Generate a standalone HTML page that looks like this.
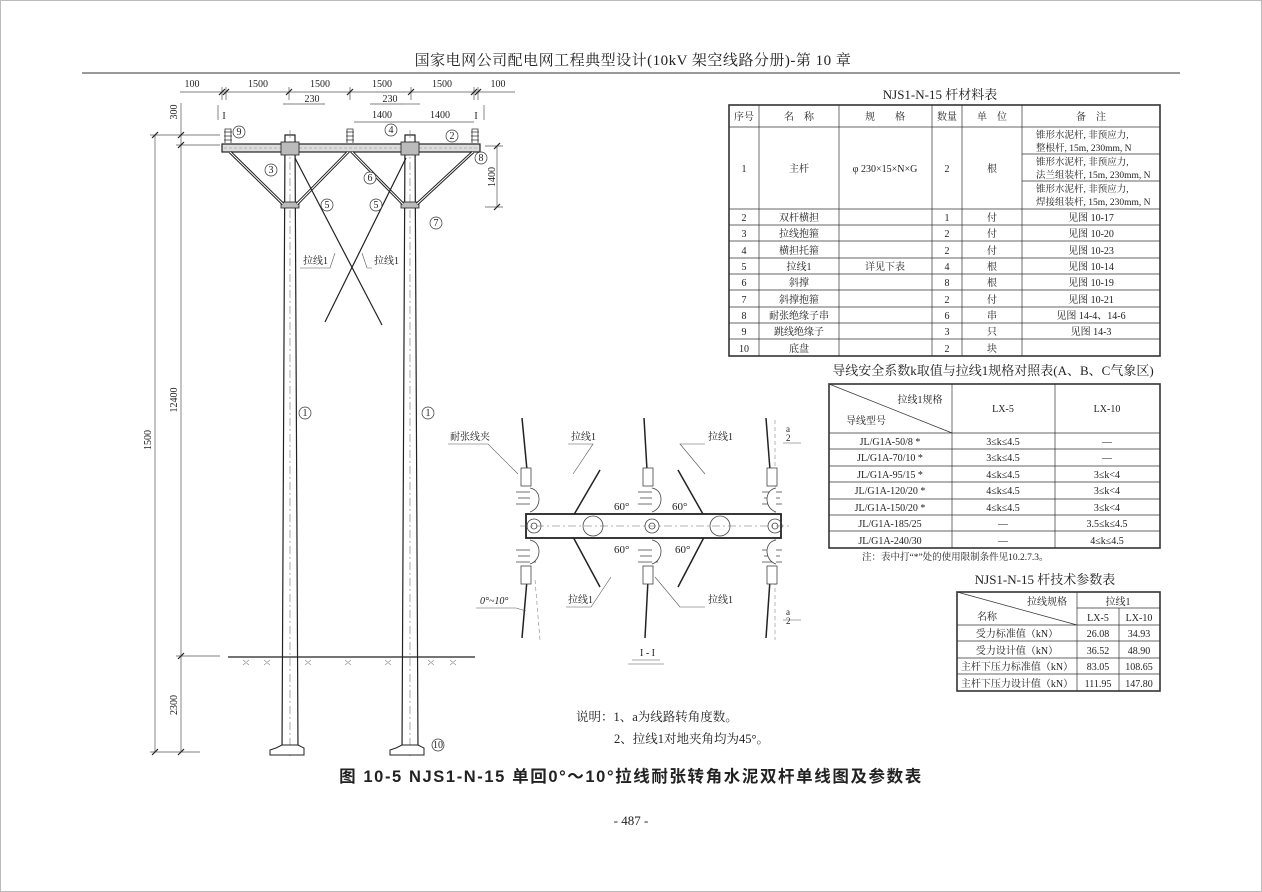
<!DOCTYPE html>
<html><head><meta charset="utf-8"><style>
body{margin:0;background:#fff}
svg{display:block}
text{font-family:"Liberation Serif","Noto Serif CJK SC","Noto Sans CJK SC",serif;fill:#222}
.s{font-size:10px}
.m{font-size:11px}
</style></head><body>
<svg width="1262" height="892" viewBox="0 0 1262 892" xmlns="http://www.w3.org/2000/svg">
<rect x="0" y="0" width="1262" height="892" fill="#fff"/>
<rect x="0.5" y="0.5" width="1261" height="891" fill="none" stroke="#bbb"/>
<text x="633" y="65" font-size="15" text-anchor="middle" letter-spacing="0.5">国家电网公司配电网工程典型设计(10kV 架空线路分册)-第 10 章</text>
<line x1="82" y1="73" x2="1180" y2="73" stroke="#333" stroke-width="1"/>

<!-- top dims -->
<g stroke="#555" stroke-width="0.7" fill="none">
<line x1="180" y1="92" x2="515" y2="92"/>
<line x1="222" y1="87" x2="222" y2="100"/><line x1="226" y1="87" x2="226" y2="100"/>
<line x1="289" y1="87" x2="289" y2="100"/><line x1="350" y1="87" x2="350" y2="100"/>
<line x1="411" y1="87" x2="411" y2="100"/><line x1="474" y1="87" x2="474" y2="100"/><line x1="478" y1="87" x2="478" y2="100"/>
<line x1="283" y1="104" x2="325" y2="104"/><line x1="405" y1="104" x2="420" y2="104"/><line x1="370" y1="104" x2="405" y2="104"/>
<line x1="354" y1="122" x2="474" y2="122"/>
<line x1="218" y1="105" x2="218" y2="120"/><line x1="484" y1="105" x2="484" y2="120"/>
<line x1="155" y1="135" x2="155" y2="752"/><line x1="181" y1="103" x2="181" y2="752"/>
<line x1="150" y1="135" x2="220" y2="135"/><line x1="176" y1="145" x2="220" y2="145"/>
<line x1="176" y1="656" x2="220" y2="656"/><line x1="150" y1="752" x2="200" y2="752"/>
<line x1="497" y1="146" x2="497" y2="207"/><line x1="485" y1="146" x2="503" y2="146"/><line x1="485" y1="207" x2="503" y2="207"/>
</g>
<g stroke="#222" stroke-width="1.2">
<line x1="219" y1="95" x2="225" y2="89"/><line x1="223" y1="95" x2="229" y2="89"/><line x1="286" y1="95" x2="292" y2="89"/><line x1="347" y1="95" x2="353" y2="89"/><line x1="408" y1="95" x2="414" y2="89"/><line x1="471" y1="95" x2="477" y2="89"/><line x1="475" y1="95" x2="481" y2="89"/>
<line x1="152" y1="138" x2="158" y2="132"/><line x1="178" y1="138" x2="184" y2="132"/><line x1="178" y1="148" x2="184" y2="142"/><line x1="178" y1="659" x2="184" y2="653"/><line x1="152" y1="755" x2="158" y2="749"/><line x1="178" y1="755" x2="184" y2="749"/>
<line x1="494" y1="149" x2="500" y2="143"/><line x1="494" y1="210" x2="500" y2="204"/>
</g>
<g class="s" text-anchor="middle">
<text x="192" y="87">100</text><text x="258" y="87">1500</text><text x="320" y="87">1500</text><text x="382" y="87">1500</text><text x="442" y="87">1500</text><text x="498" y="87">100</text>
<text x="312" y="102">230</text><text x="390" y="102">230</text>
<text x="382" y="118">1400</text><text x="440" y="118">1400</text>
<text x="224" y="119">I</text><text x="476" y="119">I</text>
<text transform="translate(177,112) rotate(-90)">300</text>
<text transform="translate(177,400) rotate(-90)">12400</text>
<text transform="translate(151,440) rotate(-90)">1500</text>
<text transform="translate(177,705) rotate(-90)">2300</text>
<text transform="translate(495,177) rotate(-90)">1400</text>
</g>

<!-- poles -->
<g stroke="#222" stroke-width="1.2" fill="#fff">
<polygon points="285,135 295,135 298,752 282,752"/>
<polygon points="405,135 415,135 418,752 402,752"/>
</g>
<g stroke="#777" stroke-width="0.6" stroke-dasharray="8,3,2,3">
<line x1="290" y1="130" x2="290" y2="756"/><line x1="410" y1="130" x2="410" y2="756"/>
</g>
<g stroke="#222" stroke-width="1" fill="#fff">
<polygon points="276,748 282,745 298,745 304,748 304,755 270,755 270,750"/>
<polygon points="396,748 402,745 418,745 424,748 424,755 390,755 390,750"/>
</g>
<line x1="228" y1="657" x2="475" y2="657" stroke="#222" stroke-width="1.3"/>
<g stroke="#888" stroke-width="0.6">
<path d="M243,660l6,5M249,660l-6,5M264,660l6,5M270,660l-6,5M305,660l6,5M311,660l-6,5M345,660l6,5M351,660l-6,5M385,660l6,5M391,660l-6,5M428,660l6,5M434,660l-6,5M450,660l6,5M456,660l-6,5"/>
</g>
<rect x="222" y="144" width="258" height="8" fill="#ddd" stroke="#222" stroke-width="1.2"/>
<line x1="224" y1="148" x2="478" y2="148" stroke="#888" stroke-dasharray="3,2" stroke-width="0.6"/>
<g fill="#bbb" stroke="#222" stroke-width="0.8">
<rect x="281" y="142" width="18" height="13"/><rect x="401" y="142" width="18" height="13"/>
<rect x="281" y="202" width="18" height="6"/><rect x="401" y="202" width="18" height="6"/>
</g>
<g stroke="#222" stroke-width="3" fill="none">
<line x1="230" y1="152" x2="283" y2="204"/><line x1="348" y1="152" x2="297" y2="204"/>
<line x1="352" y1="152" x2="403" y2="204"/><line x1="473" y1="152" x2="417" y2="204"/>
</g>
<g stroke="#fff" stroke-width="1" fill="none">
<line x1="230" y1="152" x2="283" y2="204"/><line x1="348" y1="152" x2="297" y2="204"/>
<line x1="352" y1="152" x2="403" y2="204"/><line x1="473" y1="152" x2="417" y2="204"/>
</g>
<g stroke="#222" stroke-width="1.2">
<line x1="295" y1="158" x2="382" y2="325"/><line x1="406" y1="158" x2="325" y2="322"/>
</g>
<g stroke="#333" stroke-width="0.8" fill="#fff">
<path d="M225,143v-14h6v14M224,140h8M224,136h8M224,132h8"/>
<path d="M347,143v-14h6v14M346,140h8M346,136h8M346,132h8"/>
<path d="M472,143v-14h6v14M471,140h8M471,136h8M471,132h8"/>
</g>
<g stroke="#333" stroke-width="0.7" fill="#fff" class="s">
<circle cx="239" cy="132" r="6"/><circle cx="391" cy="130" r="6"/><circle cx="452" cy="136" r="6"/><circle cx="481" cy="158" r="6"/>
<circle cx="271" cy="170" r="6"/><circle cx="370" cy="178" r="6"/><circle cx="327" cy="205" r="6"/><circle cx="376" cy="205" r="6"/><circle cx="436" cy="223" r="6"/>
<circle cx="305" cy="413" r="6"/><circle cx="428" cy="413" r="6"/><circle cx="438" cy="745" r="6"/>
</g>
<g class="s" text-anchor="middle">
<text x="239" y="135">9</text><text x="391" y="133">4</text><text x="452" y="139">2</text><text x="481" y="161">8</text>
<text x="271" y="173">3</text><text x="370" y="181">6</text><text x="327" y="208">5</text><text x="376" y="208">5</text><text x="436" y="226">7</text>
<text x="305" y="416">1</text><text x="428" y="416">1</text><text x="438" y="748">10</text>
</g>
<g class="s"><text x="303" y="264">拉线1</text><text x="374" y="264">拉线1</text></g>
<g stroke="#555" stroke-width="0.6" fill="none"><path d="M300,268h30l5,-15M372,268h-5l-5,-15"/></g>

<!-- plan view I-I -->
<g stroke="#222" stroke-width="1.5">
<line x1="522" y1="418" x2="527" y2="470"/><line x1="527" y1="580" x2="522" y2="638"/>
<line x1="644" y1="418" x2="647" y2="470"/><line x1="648" y1="580" x2="645" y2="638"/>
<line x1="766" y1="418" x2="770" y2="470"/><line x1="770" y1="580" x2="766" y2="638"/>
<line x1="600" y1="470" x2="565" y2="530"/><line x1="678" y1="470" x2="712" y2="530"/>
<line x1="565" y1="522" x2="600" y2="587"/><line x1="712" y1="522" x2="678" y2="587"/>
</g>
<g stroke="#888" stroke-width="0.6" stroke-dasharray="4,3">
<line x1="775" y1="420" x2="775" y2="640"/><line x1="535" y1="580" x2="540" y2="640"/>
</g>
<g stroke="#444" stroke-width="0.8" fill="#fff">
<rect x="521" y="468" width="10" height="18"/><rect x="643" y="468" width="10" height="18"/><rect x="767" y="468" width="10" height="18"/>
<rect x="521" y="566" width="10" height="18"/><rect x="643" y="566" width="10" height="18"/><rect x="767" y="566" width="10" height="18"/>
<path d="M516,492h20M518,498h16M516,504h20M638,492h20M640,498h16M638,504h20M762,492h20M764,498h16M762,504h20"/>
<path d="M516,550h20M518,556h16M516,562h20M638,550h20M640,556h16M638,562h20M762,550h20M764,556h16M762,562h20"/>
<path d="M530,488c12,2 12,20 0,24M652,488c12,2 12,20 0,24M776,488c-12,2 -12,20 0,24"/>
<path d="M530,540c12,2 12,20 0,24M652,540c12,2 12,20 0,24M776,540c-12,2 -12,20 0,24"/>
</g>
<rect x="526" y="514" width="255" height="24" fill="#fff" stroke="#222" stroke-width="1.8"/>
<line x1="520" y1="526" x2="790" y2="526" stroke="#666" stroke-width="0.6" stroke-dasharray="8,3,2,3"/>
<g stroke="#444" stroke-width="0.8" fill="none">
<circle cx="534" cy="526" r="7"/><circle cx="534" cy="526" r="3"/>
<circle cx="652" cy="526" r="7"/><circle cx="652" cy="526" r="3"/>
<circle cx="775" cy="526" r="7"/><circle cx="775" cy="526" r="3"/>
<circle cx="593" cy="526" r="10"/><circle cx="720" cy="526" r="10"/>
</g>
<g font-size="11"><text x="614" y="510">60°</text><text x="672" y="510">60°</text><text x="614" y="553">60°</text><text x="675" y="553">60°</text></g>
<g class="s">
<text x="450" y="440">耐张线夹</text><text x="571" y="440">拉线1</text><text x="708" y="440">拉线1</text>
<text x="568" y="603">拉线1</text><text x="708" y="603">拉线1</text>
<text x="480" y="604" font-style="italic">0°~10°</text>
<text x="786" y="432" font-size="9">a</text><text x="786" y="441" font-size="9">2</text>
<text x="786" y="615" font-size="9">a</text><text x="786" y="624" font-size="9">2</text>
<text x="640" y="656">I - I</text>
</g>
<g stroke="#555" stroke-width="0.6" fill="none">
<path d="M448,444h40l30,30M568,444h25l-20,30M705,444h-25l25,30M566,607h25l20,-30M705,607h-25l-25,-30M476,608h40l10,3M783,443h18M783,620h18"/>
<line x1="632" y1="660" x2="660" y2="660"/><line x1="628" y1="664" x2="664" y2="664"/>
</g>

<text x="576" y="721" font-size="12.5">说明：1、a为线路转角度数。</text>
<text x="614" y="743" font-size="12.5">2、拉线1对地夹角均为45°。</text>
<text x="631" y="782" font-size="16.5" font-weight="bold" text-anchor="middle" letter-spacing="1.6" style="font-family:'Liberation Sans','Noto Sans CJK SC',sans-serif">图 10-5  NJS1-N-15 单回0°～10°拉线耐张转角水泥双杆单线图及参数表</text>
<text x="631" y="825" font-size="13" text-anchor="middle">- 487 -</text>

<!-- Table 1 -->
<text x="940" y="99" font-size="13" text-anchor="middle">NJS1-N-15 杆材料表</text>
<g stroke="#333" stroke-width="0.7" fill="none">
<rect x="729" y="105" width="431" height="251" stroke-width="1.6"/>
<path d="M729,127H1160M729,209H1160M729,225H1160M729,241H1160M729,258H1160M729,274H1160M729,290H1160M729,307H1160M729,323H1160M729,339H1160M1022,154H1160M1022,181H1160"/>
<path d="M759,105V356M839,105V356M932,105V356M962,105V356M1022,105V356"/>
</g>
<g class="s" text-anchor="middle">
<text x="744" y="120">序号</text><text x="799" y="120">名　称</text><text x="885" y="120">规　　格</text><text x="947" y="120">数量</text><text x="992" y="120">单　位</text><text x="1091" y="120">备　注</text>
<text x="744" y="172">1</text><text x="799" y="172">主杆</text><text x="885" y="172">φ 230×15×N×G</text><text x="947" y="172">2</text><text x="992" y="172">根</text>
</g>
<g font-size="9.5">
<text x="1036" y="138">锥形水泥杆, 非预应力,</text><text x="1036" y="151">整根杆, 15m, 230mm, N</text>
<text x="1036" y="165">锥形水泥杆, 非预应力,</text><text x="1036" y="178">法兰组装杆, 15m, 230mm, N</text>
<text x="1036" y="192">锥形水泥杆, 非预应力,</text><text x="1036" y="205">焊接组装杆, 15m, 230mm, N</text>
</g>
<g class="s" text-anchor="middle">
<text x="744" y="221">2</text><text x="799" y="221">双杆横担</text><text x="947" y="221">1</text><text x="992" y="221">付</text><text x="1091" y="221">见图 10-17</text>
<text x="744" y="237">3</text><text x="799" y="237">拉线抱箍</text><text x="947" y="237">2</text><text x="992" y="237">付</text><text x="1091" y="237">见图 10-20</text>
<text x="744" y="254">4</text><text x="799" y="254">横担托箍</text><text x="947" y="254">2</text><text x="992" y="254">付</text><text x="1091" y="254">见图 10-23</text>
<text x="744" y="270">5</text><text x="799" y="270">拉线1</text><text x="885" y="270">详见下表</text><text x="947" y="270">4</text><text x="992" y="270">根</text><text x="1091" y="270">见图 10-14</text>
<text x="744" y="286">6</text><text x="799" y="286">斜撑</text><text x="947" y="286">8</text><text x="992" y="286">根</text><text x="1091" y="286">见图 10-19</text>
<text x="744" y="303">7</text><text x="799" y="303">斜撑抱箍</text><text x="947" y="303">2</text><text x="992" y="303">付</text><text x="1091" y="303">见图 10-21</text>
<text x="744" y="319">8</text><text x="799" y="319">耐张绝缘子串</text><text x="947" y="319">6</text><text x="992" y="319">串</text><text x="1091" y="319">见图 14-4、14-6</text>
<text x="744" y="335">9</text><text x="799" y="335">跳线绝缘子</text><text x="947" y="335">3</text><text x="992" y="335">只</text><text x="1091" y="335">见图 14-3</text>
<text x="744" y="352">10</text><text x="799" y="352">底盘</text><text x="947" y="352">2</text><text x="992" y="352">块</text>
</g>

<!-- Table 2 -->
<text x="993" y="375" font-size="13" text-anchor="middle">导线安全系数k取值与拉线1规格对照表(A、B、C气象区)</text>
<g stroke="#333" stroke-width="0.7" fill="none">
<rect x="829" y="384" width="331" height="164" stroke-width="1.6"/>
<path d="M829,433H1160M829,449H1160M829,466H1160M829,482H1160M829,499H1160M829,515H1160M829,531H1160M952,384V548M1055,384V548M829,384L952,433"/>
</g>
<g class="s" text-anchor="middle">
<text x="920" y="403">拉线1规格</text><text x="866" y="424">导线型号</text>
<text x="1003" y="412">LX-5</text><text x="1107" y="412">LX-10</text>
<text x="890" y="445">JL/G1A-50/8 *</text><text x="1003" y="445">3≤k≤4.5</text><text x="1107" y="445">—</text>
<text x="890" y="461">JL/G1A-70/10 *</text><text x="1003" y="461">3≤k≤4.5</text><text x="1107" y="461">—</text>
<text x="890" y="478">JL/G1A-95/15 *</text><text x="1003" y="478">4≤k≤4.5</text><text x="1107" y="478">3≤k&lt;4</text>
<text x="890" y="494">JL/G1A-120/20 *</text><text x="1003" y="494">4≤k≤4.5</text><text x="1107" y="494">3≤k&lt;4</text>
<text x="890" y="511">JL/G1A-150/20 *</text><text x="1003" y="511">4≤k≤4.5</text><text x="1107" y="511">3≤k&lt;4</text>
<text x="890" y="527">JL/G1A-185/25</text><text x="1003" y="527">—</text><text x="1107" y="527">3.5≤k≤4.5</text>
<text x="890" y="544">JL/G1A-240/30</text><text x="1003" y="544">—</text><text x="1107" y="544">4≤k≤4.5</text>
</g>
<text x="862" y="560" font-size="9.5">注：表中打“*”处的使用限制条件见10.2.7.3。</text>

<!-- Table 3 -->
<text x="1045" y="584" font-size="13" text-anchor="middle">NJS1-N-15 杆技术参数表</text>
<g stroke="#333" stroke-width="0.7" fill="none">
<rect x="957" y="592" width="203" height="99" stroke-width="1.6"/>
<path d="M1077,608H1160M957,625H1160M957,641H1160M957,658H1160M957,674H1160M1077,592V691M1119,608V691M957,592L1077,625"/>
</g>
<g class="s" text-anchor="middle">
<text x="1047" y="605">拉线规格</text><text x="987" y="620">名称</text><text x="1118" y="605">拉线1</text>
<text x="1098" y="621">LX-5</text><text x="1139" y="621">LX-10</text>
<text x="1017" y="637">受力标准值（kN）</text><text x="1098" y="637">26.08</text><text x="1139" y="637">34.93</text>
<text x="1017" y="654">受力设计值（kN）</text><text x="1098" y="654">36.52</text><text x="1139" y="654">48.90</text>
<text x="1017" y="670">主杆下压力标准值（kN）</text><text x="1098" y="670">83.05</text><text x="1139" y="670">108.65</text>
<text x="1017" y="687">主杆下压力设计值（kN）</text><text x="1098" y="687">111.95</text><text x="1139" y="687">147.80</text>
</g>
</svg>
</body></html>
